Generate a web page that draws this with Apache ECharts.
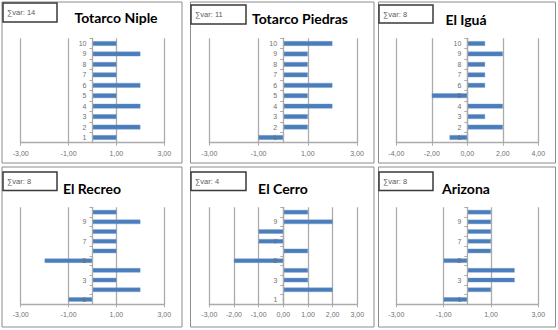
<!DOCTYPE html>
<html><head><meta charset="utf-8">
<script src="https://cdn.jsdelivr.net/npm/echarts@6/dist/echarts.min.js"></script>
<style>html,body{margin:0;padding:0;background:#fff}#c{width:558px;height:330px}</style>
</head><body><div id="c"></div>
<script>
const categories = ['1','2','3','4','5','6','7','8','9','10'];
const panelTitles = ['Totarco Niple','Totarco Piedras','El Iguá','El Recreo','El Cerro','Arizona'];
const totarcoNiple   = [1, 2, 1, 2, 1, 2, 1, 1, 2, 1];
const totarcoPiedras = [-1, 1, 1, 2, 1, 2, 1, 1, 1, 2];
const elIgua         = [-1, 2, 1, 2, -2, 1, 1, 1, 2, 1];
const elRecreo       = [-1, 2, 1, 2, -2, 1, 1, 1, 2, 1];
const elCerro        = [0, 2, 1, 1, -2, 1, -1, -1, 2, 1];
const arizona        = [-1, 1, 2, 2, -1, 1, 1, 1, 1, 1];
const axisMin = [-3, -3, -4, -3, -3, -3];
const axisMax = [3, 3, 4, 3, 3, 3];
const axisStep = [2, 2, 2, 2, 1, 2];

const seriesData = [totarcoNiple, totarcoPiedras, elIgua, elRecreo, elCerro, arizona];

// layout (pixels)
const panels = [
  {x:2, y:2, w:180, h:161},
  {x:190.5, y:2, w:183.5, h:161},
  {x:378.5, y:2, w:177, h:161},
  {x:2, y:167, w:180, h:160},
  {x:190.5, y:167, w:183.5, h:160},
  {x:378.5, y:167, w:177, h:160}
];
const grids = [
  {left:20.7, top:38.3, width:143.6, height:104.4},
  {left:209.3, top:38.3, width:147.7, height:104.4},
  {left:396.3, top:38.3, width:142, height:104.4},
  {left:20.7, top:207.3, width:143.6, height:97},
  {left:209.3, top:207.3, width:148, height:97},
  {left:396.3, top:207.3, width:142, height:97}
];
const sumBoxes = [
  {x:3, y:3, w:54, h:19},
  {x:191, y:5, w:55, h:19},
  {x:379, y:5, w:54, h:18},
  {x:3, y:172, w:54, h:18.5},
  {x:191, y:172, w:55, h:18.5},
  {x:379, y:172, w:54, h:18.5}
];
const titlePos = [[116,17.5],[300,18.5],[466,19],[92,188.5],[283,188.5],[466,188.5]];

const fmt = v => v.toFixed(2).replace('.', ',');
const gridColor = '#ababab';
const labelColor = '#707070';

const graphic = [];
panels.forEach(p => graphic.push({type:'rect', z:-10, shape:{x:p.x, y:p.y, width:p.w, height:p.h},
  style:{fill:'#fff', stroke:'#8c8c8c', lineWidth:1}}));
sumBoxes.forEach((b, i) => {
  const sum = seriesData[i].reduce((a, c) => a + c, 0);
  graphic.push({type:'rect', z:10, shape:{x:b.x, y:b.y, width:b.w, height:b.h},
    style:{fill:'#fff', stroke:'#3a3a3a', lineWidth:1.5}});
  graphic.push({type:'text', z:11, x:b.x + 4, y:b.y + b.h/2,
    style:{text:'∑var: ' + sum, fontSize:7.5, fill:'#595959', fontFamily:'Liberation Sans',
      verticalAlign:'middle', align:'left'}});
});
titlePos.forEach((t, i) => graphic.push({type:'text', z:11, x:t[0], y:t[1],
  style:{text:panelTitles[i], fontSize:14, fontWeight:'bold', fill:'#000', fontFamily:'Lato',
    align:'center', verticalAlign:'middle'}}));

const option = {
  animation:false,
  grid: grids.map(g => Object.assign({containLabel:false}, g)),
  xAxis: grids.map((g, i) => ({
    type:'value', gridIndex:i, min:axisMin[i], max:axisMax[i], interval:axisStep[i],
    axisLine:{show:true, lineStyle:{color:gridColor, width:1.3}},
    axisTick:{show:true, length:3, lineStyle:{color:gridColor}},
    axisLabel:{formatter:fmt, fontSize:7, color:labelColor, margin:7, fontFamily:'Liberation Sans'},
    splitLine:{show:true, lineStyle:{color:gridColor, width:1.3}}
  })),
  yAxis: grids.map((g, i) => ({
    type:'category', gridIndex:i, data:categories, position:'left', z:3,
    // place the category axis where the value axis crosses zero
    offset: -g.width * (0 - axisMin[i]) / (axisMax[i] - axisMin[i]),
    axisLine:{show:true, onZero:false, lineStyle:{color:gridColor, width:1.3}},
    axisTick:{show:true, length:3, interval:0, lineStyle:{color:gridColor}},
    axisLabel:{fontSize:7, color:labelColor, margin:6, interval: i < 3 ? 0 : 1, fontFamily:'Liberation Sans'},
    splitLine:{show:false}
  })),
  series: seriesData.map((d, i) => ({
    type:'bar', xAxisIndex:i, yAxisIndex:i, data:d, barWidth:'45%', z:2,
    itemStyle:{color:'#4a7ebb', borderColor:'#6f98cc', borderWidth:0.4}
  })),
  graphic: graphic
};
const chart = echarts.init(document.getElementById('c'), null, {renderer:'svg'});
chart.setOption(option);
</script></body></html>
